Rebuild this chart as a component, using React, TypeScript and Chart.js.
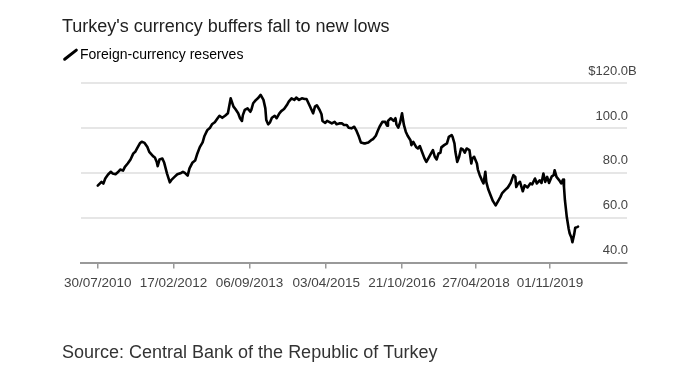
import { useEffect, useRef } from "react";
import { Chart, registerables } from "chart.js";

Chart.register(...registerables);

const TITLE = "Turkey's currency buffers fall to new lows";
const SERIES_LABEL = "Foreign-currency reserves";
const SOURCE = "Source: Central Bank of the Republic of Turkey";

// Weeks elapsed since 30/07/2010 (x) and reserves in $ billions (y)
const WEEKS = [
  0, 4, 6, 8, 11, 14, 16, 19, 22, 24, 27, 29, 32, 35, 38, 40, 42, 45, 47, 50, 53, 55, 59, 61, 63, 64, 66, 69, 71, 74,
  77, 79, 82, 85, 89, 91, 93, 96, 98, 101, 104, 106, 109, 112, 114, 117, 120, 122, 125, 128, 130, 133, 136, 139, 141,
  142, 145, 147, 150, 152, 154, 155, 157, 160, 163, 164, 166, 169, 171, 174, 177, 179, 180, 182, 184, 186, 189, 191,
  194, 196, 199, 202, 204, 207, 210, 212, 215, 218, 221, 223, 226, 230, 232, 234, 237, 239, 240, 243, 245, 247, 250,
  253, 255, 258, 261, 263, 266, 268, 271, 274, 276, 279, 281, 284, 286, 289, 292, 294, 297, 299, 301, 304, 307, 309,
  310, 313, 316, 318, 319, 321, 323, 325, 327, 329, 331, 334, 335, 337, 340, 342, 344, 346, 349, 351, 354, 356, 358,
  360, 362, 364, 366, 367, 370, 373, 375, 378, 379, 381, 382, 384, 386, 388, 390, 392, 394, 397, 399, 400, 402, 405,
  406, 408, 410, 412, 414, 415, 417, 420, 422, 425, 427, 430, 432, 435, 438, 441, 444, 446, 447, 449, 451, 454, 456,
  459, 462, 464, 467, 469, 472, 474, 476, 478, 480, 482, 485, 487, 488, 490, 493, 495, 497, 498, 499, 501, 503, 504,
  506, 507, 509, 510, 512, 513,
];
const RESERVES_BN = [
  74.3, 76.0, 75.2, 77.5, 79.3, 80.5, 79.7, 79.4, 80.5, 81.5, 81.0, 82.7, 84.2, 86.0, 88.7, 89.4, 90.9, 93.2, 93.9,
  93.4, 91.6, 89.4, 87.5, 86.9, 84.9, 83.0, 86.0, 86.4, 84.5, 79.7, 75.8, 77.0, 78.2, 79.4, 80.0, 80.5, 80.0, 78.8,
  82.0, 84.5, 85.5, 88.2, 91.5, 93.6, 96.5, 99.1, 100.2, 101.7, 102.6, 104.4, 105.5, 104.6, 105.5, 106.6, 111.1,
  113.3, 109.6, 108.5, 106.6, 104.4, 103.2, 105.8, 108.1, 108.8, 107.3, 108.1, 111.1, 112.6, 113.3, 114.8, 112.6,
  108.8, 103.6, 101.7, 102.6, 104.6, 105.5, 104.4, 106.6, 107.6, 108.5, 110.3, 111.8, 113.3, 112.6, 113.6, 112.6,
  113.3, 113.0, 113.0, 110.3, 106.6, 109.6, 110.2, 108.1, 106.2, 103.2, 102.3, 103.2, 102.8, 102.1, 102.8, 101.7,
  102.1, 102.1, 101.4, 101.4, 100.2, 99.9, 100.6, 99.1, 96.1, 93.6, 93.2, 93.2, 93.6, 94.6, 95.1, 96.6, 98.7, 100.6,
  102.8, 102.8, 101.1, 103.2, 104.4, 103.2, 104.4, 101.7, 100.2, 102.6, 106.6, 101.4, 98.4, 96.6, 94.6, 92.4, 93.9,
  91.6, 90.9, 92.0, 89.8, 86.5, 84.9, 87.2, 88.7, 90.2, 87.2, 86.0, 88.7, 89.0, 91.4, 92.4, 93.2, 96.1, 96.9, 96.1,
  93.2, 89.4, 84.9, 87.2, 90.9, 90.5, 89.0, 90.9, 90.2, 84.2, 86.4, 87.2, 84.2, 81.5, 79.0, 77.0, 75.3, 80.5, 76.0,
  72.8, 69.6, 67.5, 65.5, 67.0, 69.2, 71.0, 72.3, 73.5, 75.5, 79.0, 78.2, 73.7, 75.3, 76.0, 71.8, 74.5, 73.5, 75.3,
  74.9, 77.5, 75.3, 76.7, 75.5, 79.7, 76.0, 78.2, 75.5, 78.5, 79.0, 81.2, 78.2, 76.7, 75.3, 77.0, 73.7, 67.8, 60.3,
  55.1, 53.1, 51.0, 49.1, 52.9, 55.5, 55.8, 56.0,
];

const X_TICK_WEEKS = [0, 81, 162, 244, 325, 404, 483];
const X_TICK_LABELS = ["30/07/2010", "17/02/2012", "06/09/2013", "03/04/2015", "21/10/2016", "27/04/2018", "01/11/2019"];
const Y_TICKS = [40, 60, 80, 100, 120];
const Y_TICK_LABELS = ["40.0", "60.0", "80.0", "100.0", "$120.0"];
const Y_UNIT_SUFFIX = "B";

const FONT = "'Liberation Sans', Arial, Helvetica, sans-serif";

const yLabelPlugin = {
  id: "yLabelsRight",
  afterDraw(chart: any) {
    const { ctx, chartArea, scales } = chart;
    const ys = scales.y;
    ctx.save();
    ctx.font = `13px ${FONT}`;
    ctx.fillStyle = "#444";
    ctx.textBaseline = "middle";
    ys.ticks.forEach((t: any) => {
      const idx = Y_TICKS.indexOf(t.value);
      if (idx < 0) return;
      const py = ys.getPixelForValue(t.value) - 12;
      const xr = chartArea.right + 1;
      ctx.textAlign = "right";
      ctx.fillText(Y_TICK_LABELS[idx], xr, py);
      if (idx === Y_TICKS.length - 1) {
        ctx.textAlign = "left";
        ctx.fillText(Y_UNIT_SUFFIX, xr, py);
      }
    });
    ctx.restore();
  },
};

export default function App() {
  const ref = useRef<HTMLCanvasElement | null>(null);

  useEffect(() => {
    if (!ref.current) return;
    const chart = new Chart(ref.current, {
      type: "line",
      data: {
        datasets: [
          {
            label: SERIES_LABEL,
            data: WEEKS.map((w, i) => ({ x: w, y: RESERVES_BN[i] })),
            borderColor: "#000",
            borderWidth: 2.6,
            pointRadius: 0,
            tension: 0,
            fill: false,
            borderJoinStyle: "round",
            borderCapStyle: "round",
          } as any,
        ],
      },
      options: {
        responsive: false,
        animation: false,
        devicePixelRatio: 1,
        events: [],
        layout: { padding: { left: 62, right: 73, top: 0, bottom: 0 } },
        scales: {
          x: {
            type: "linear",
            min: -17.9,
            max: 565.3,
            afterBuildTicks: (s: any) => {
              s.ticks = X_TICK_WEEKS.map((v) => ({ value: v }));
            },
            ticks: {
              autoSkip: false,
              maxRotation: 0,
              minRotation: 0,
              padding: 7,
              color: "#444",
              font: { family: FONT, size: 13.5 },
              callback: (_v: any, i: number) => X_TICK_LABELS[i],
            },
            grid: { drawOnChartArea: false, drawTicks: true, tickLength: 6, color: "#999", lineWidth: 1.5 },
            border: { display: true, color: "#999", width: 2 },
          },
          y: {
            position: "left",
            min: 40,
            max: 125.18,
            afterBuildTicks: (s: any) => {
              s.ticks = Y_TICKS.map((v) => ({ value: v }));
            },
            afterFit: (s: any) => {
              s.width = 19;
            },
            ticks: { display: false },
            grid: { color: "#e6e6e6", lineWidth: 2, drawTicks: false },
            border: { display: false },
          },
        },
        plugins: {
          tooltip: { enabled: false },
          title: {
            display: true,
            text: TITLE,
            align: "start",
            color: "#222",
            font: { family: FONT, size: 18, weight: "normal" },
            padding: { top: 16, bottom: 4.1 },
          },
          legend: {
            display: true,
            position: "top",
            align: "start",
            labels: {
              usePointStyle: true,
              boxWidth: 5,
              boxHeight: 10.5,
              padding: 6,
              color: "#333",
              font: { family: FONT, size: 14 },
              generateLabels: () => [
                {
                  text: SERIES_LABEL,
                  fillStyle: "#000",
                  strokeStyle: "#000",
                  lineWidth: 3,
                  pointStyle: "line",
                  rotation: -38,
                  lineCap: "round",
                  hidden: false,
                  datasetIndex: 0,
                } as any,
              ],
            },
          },
          subtitle: {
            display: true,
            position: "bottom",
            text: SOURCE,
            align: "start",
            color: "#333",
            font: { family: FONT, size: 18, weight: "normal" },
            padding: { top: 43.2, bottom: 16.5 },
          },
        },
      } as any,
      plugins: [yLabelPlugin],
    });
    return () => chart.destroy();
  }, []);

  return (
    <div style={{ width: 700, height: 380 }}>
      <style>{"body{margin:0}"}</style>
      <canvas ref={ref} width={700} height={380} style={{ display: "block" }} />
    </div>
  );
}
